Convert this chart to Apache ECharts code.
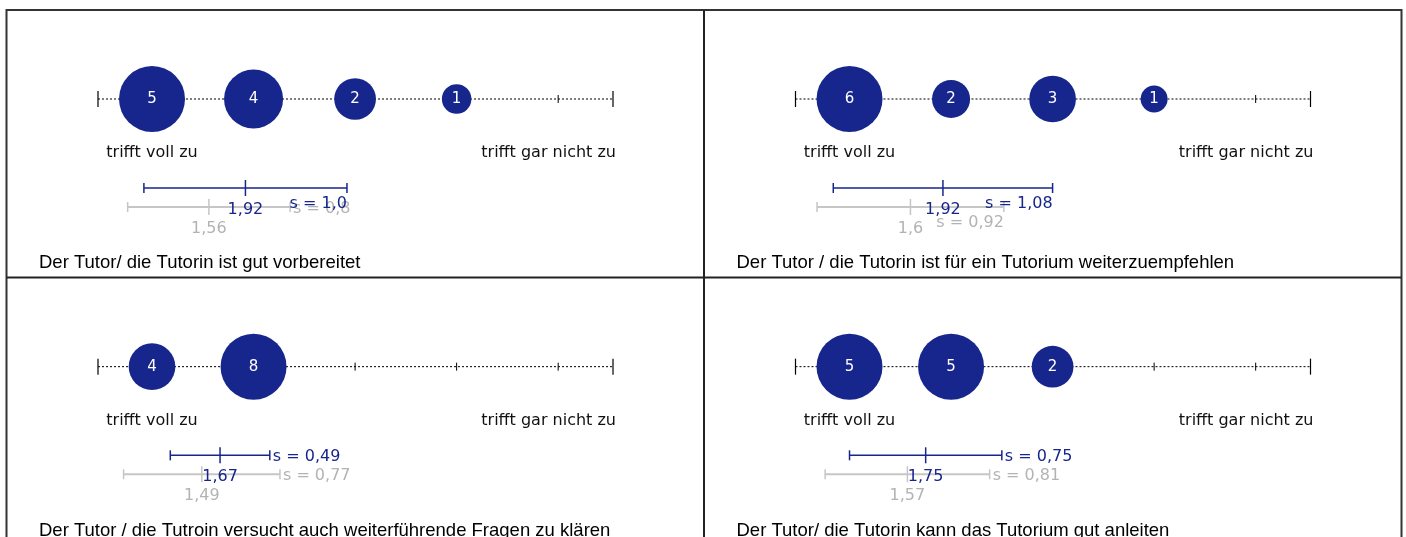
<!DOCTYPE html>
<html>
<head>
<meta charset="utf-8">
<script src="https://cdn.jsdelivr.net/npm/echarts@6/dist/echarts.min.js"></script>
<style>
  html, body { margin: 0; padding: 0; background: #fff; }
  #main { width: 1406px; height: 537px; }
</style>
</head>
<body>
<div id="main"></div>
<script>
// answer categories (1 = trifft voll zu ... 5 = trifft gar nicht zu)
const scalePoints = [1, 2, 3, 4, 5]
const scaleLabels = ['trifft voll zu', 'trifft gar nicht zu']

const questions = [
  'Der Tutor/ die Tutorin ist gut vorbereitet',
  'Der Tutor / die Tutorin ist für ein Tutorium weiterzuempfehlen',
  'Der Tutor / die Tutroin versucht auch weiterführende Fragen zu klären',
  'Der Tutor/ die Tutorin kann das Tutorium gut anleiten'
]

// number of answers per category
const counts = [
  [5, 4, 2, 1, 0],
  [6, 2, 3, 1, 0],
  [4, 8, 0, 0, 0],
  [5, 5, 2, 0, 0]
]

// this course
const means = [1.92, 1.92, 1.67, 1.75]
const sds = [1.0, 1.08, 0.49, 0.75]
const meanLabels = ['1,92', '1,92', '1,67', '1,75']
const sdLabels = ['s = 1,0', 's = 1,08', 's = 0,49', 's = 0,75']

// comparison values
const compMeans = [1.56, 1.6, 1.49, 1.57]
const compSds = [0.8, 0.92, 0.77, 0.81]
const compMeanLabels = ['1,56', '1,6', '1,49', '1,57']
const compSdLabels = ['s = 0,8', 's = 0,92', 's = 0,77', 's = 0,81']

// layout
const BLUE = '#16268c'
const GRAY = '#c6c6c6'
const GRAY_TXT = '#b3b3b3'
const FONT = 'DejaVu Sans'
const origins = [[0, 10], [697.5, 10], [0, 278], [697.5, 278]]
const ROW_SCALE = 89
const ROW_MEAN = 178
const ROW_COMP = 197
const AX_MIN = 0.468
const AX_MAX = 5.54
// where the "s = .." text goes: [blue, gray]
const sdPlace = [['below', 'right'], ['below', 'below'], ['right', 'right'], ['right', 'right']]

const chart = echarts.init(document.getElementById('main'))

const grids = []
const xAxes = []
const yAxes = []
const titles = []
const series = []

function scaleRender(params, api) {
  const a = api.coord([AX_MIN, ROW_SCALE])
  const b = api.coord([AX_MAX, ROW_SCALE])
  const children = [
    { type: 'line', shape: { x1: a[0], y1: a[1], x2: b[0], y2: b[1] },
      style: { stroke: '#000', lineWidth: 1, lineDash: [2, 2] } },
    { type: 'line', shape: { x1: a[0], y1: a[1] - 8, x2: a[0], y2: a[1] + 8 },
      style: { stroke: '#000', lineWidth: 1.2 } },
    { type: 'line', shape: { x1: b[0], y1: b[1] - 8, x2: b[0], y2: b[1] + 8 },
      style: { stroke: '#000', lineWidth: 1.2 } }
  ]
  scalePoints.forEach(v => {
    const c = api.coord([v, ROW_SCALE])
    children.push({ type: 'line', shape: { x1: c[0], y1: c[1] - 4, x2: c[0], y2: c[1] + 4 },
      style: { stroke: '#000', lineWidth: 1 } })
  })
  const l = api.coord([scalePoints[0], ROW_SCALE])
  const font = '16px "' + FONT + '"'
  children.push({ type: 'text', style: { text: scaleLabels[0], x: l[0], y: l[1] + 54,
    align: 'center', verticalAlign: 'middle', fill: '#111', font: font } })
  children.push({ type: 'text', style: { text: scaleLabels[1], x: b[0] + 3, y: b[1] + 54,
    align: 'right', verticalAlign: 'middle', fill: '#111', font: font } })
  return { type: 'group', children: children }
}

function errRender(p, comp) {
  return function (params, api) {
    const m = api.value(0)
    const s = api.value(1)
    const row = api.value(2)
    const a = api.coord([m - s, row])
    const b = api.coord([m + s, row])
    const c = api.coord([m, row])
    const col = comp ? GRAY : BLUE
    const txt = comp ? GRAY_TXT : BLUE
    const mLab = comp ? compMeanLabels[p] : meanLabels[p]
    const sLab = comp ? compSdLabels[p] : sdLabels[p]
    const place = sdPlace[p][comp ? 1 : 0]
    const font = '16px "' + FONT + '"'
    const sStyle = place === 'right'
      ? { x: b[0] + 3, y: b[1] + 2, align: 'left' }
      : { x: b[0], y: b[1] + 16, align: 'right' }
    return {
      type: 'group',
      children: [
        { type: 'line', shape: { x1: a[0], y1: a[1], x2: b[0], y2: b[1] },
          style: { stroke: col, lineWidth: comp ? 2 : 1.5 } },
        { type: 'line', shape: { x1: a[0], y1: a[1] - 5, x2: a[0], y2: a[1] + 5 },
          style: { stroke: col, lineWidth: 1.5 } },
        { type: 'line', shape: { x1: b[0], y1: b[1] - 5, x2: b[0], y2: b[1] + 5 },
          style: { stroke: col, lineWidth: 1.5 } },
        { type: 'line', shape: { x1: c[0], y1: c[1] - 8, x2: c[0], y2: c[1] + 8 },
          style: { stroke: col, lineWidth: 1.5 } },
        { type: 'text', style: { text: mLab, x: c[0], y: c[1] + 22, align: 'center',
          verticalAlign: 'middle', fill: txt, font: font } },
        { type: 'text', style: Object.assign({ text: sLab, verticalAlign: 'middle', fill: txt, font: font }, sStyle) }
      ]
    }
  }
}

for (let p = 0; p < 4; p++) {
  const [ox, oy] = origins[p]
  grids.push({ left: 98 + ox, top: oy, width: 515, height: 260 })
  xAxes.push({ gridIndex: p, type: 'value', min: AX_MIN, max: AX_MAX, show: false })
  yAxes.push({ gridIndex: p, type: 'value', min: 0, max: 260, inverse: true, show: false })
  titles.push({
    text: questions[p], left: 34 + ox, top: oy + 238,
    textStyle: { fontFamily: 'Liberation Sans', fontSize: 18.5, fontWeight: 'normal', color: '#000' }
  })

  series.push({
    type: 'custom', xAxisIndex: p, yAxisIndex: p, silent: true, z: 1,
    data: [[0]], renderItem: scaleRender
  })

  const maxC = Math.max(...counts[p])
  series.push({
    type: 'scatter', xAxisIndex: p, yAxisIndex: p, silent: true, z: 3,
    data: scalePoints.map((v, i) => [v, ROW_SCALE, counts[p][i]]).filter(d => d[2] > 0),
    symbolSize: d => 66 * Math.sqrt(d[2] / maxC),
    itemStyle: { color: BLUE, opacity: 1 },
    label: {
      show: true, position: 'inside', formatter: q => q.value[2],
      color: '#fff', fontSize: 15, fontFamily: FONT
    }
  })

  series.push({
    type: 'custom', xAxisIndex: p, yAxisIndex: p, silent: true, z: 4,
    data: [[compMeans[p], compSds[p], ROW_COMP]], renderItem: errRender(p, true)
  })
  series.push({
    type: 'custom', xAxisIndex: p, yAxisIndex: p, silent: true, z: 5,
    data: [[means[p], sds[p], ROW_MEAN]], renderItem: errRender(p, false)
  })
}

chart.setOption({
  animation: false,
  title: titles,
  grid: grids,
  xAxis: xAxes,
  yAxis: yAxes,
  series: series,
  graphic: [
    { type: 'polyline', shape: { points: [[6.5, 537], [6.5, 10], [1401.5, 10], [1401.5, 537]] },
      style: { stroke: '#333', lineWidth: 2, fill: null } },
    { type: 'line', shape: { x1: 704, y1: 10, x2: 704, y2: 537 }, style: { stroke: '#222', lineWidth: 2 } },
    { type: 'line', shape: { x1: 6.5, y1: 277.5, x2: 1401.5, y2: 277.5 }, style: { stroke: '#222', lineWidth: 2 } }
  ]
})
</script>
</body>
</html>
